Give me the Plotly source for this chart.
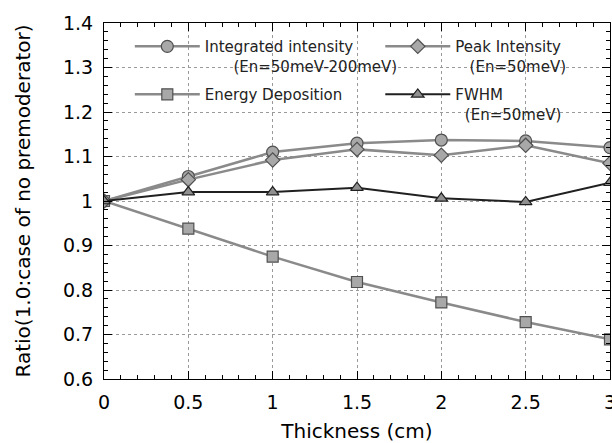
import plotly.graph_objects as go

thickness = [0, 0.5, 1, 1.5, 2, 2.5, 3]
integrated = [1.0, 1.055, 1.11, 1.13, 1.137, 1.135, 1.12]
peak = [1.0, 1.048, 1.092, 1.116, 1.103, 1.125, 1.085]
energy_dep = [1.0, 0.938, 0.875, 0.818, 0.772, 0.728, 0.689]
fwhm = [1.0, 1.02, 1.02, 1.03, 1.006, 0.998, 1.041]

names = [
    "Integrated intensity<br>&nbsp;&nbsp;&nbsp;&nbsp;&nbsp;&nbsp;(En=50meV-200meV)",
    "Peak Intensity<br>&nbsp;&nbsp;&nbsp;(En=50meV)",
    "Energy Deposition",
    "FWHM<br>&nbsp;&nbsp;(En=50meV)",
]

fig = go.Figure()
mk = dict(color="#a8a8a8", line=dict(color="#505050", width=1.2))
fig.add_trace(go.Scatter(x=thickness, y=integrated, name=names[0], mode="lines+markers",
                         line=dict(color="#8a8a8a", width=2.5),
                         marker=dict(symbol="circle", size=12, **mk), legend="legend", legendgroup="a"))
fig.add_trace(go.Scatter(x=thickness, y=energy_dep, name=names[2], mode="lines+markers",
                         line=dict(color="#8a8a8a", width=2.5),
                         marker=dict(symbol="square", size=11, **mk), legend="legend", legendgroup="b"))
fig.add_trace(go.Scatter(x=thickness, y=peak, name=names[1], mode="lines+markers",
                         line=dict(color="#8a8a8a", width=2.5),
                         marker=dict(symbol="diamond", size=11, **mk), legend="legend2", legendgroup="c"))
fig.add_trace(go.Scatter(x=thickness, y=fwhm, name=names[3], mode="lines+markers",
                         line=dict(color="#202020", width=2),
                         marker=dict(symbol="triangle-up", size=11, color="#909090",
                                     line=dict(color="#202020", width=1.2)),
                         legend="legend2", legendgroup="d"))

font_family = "DejaVu Sans, Arial, sans-serif"
leg_common = dict(orientation="v", bgcolor="rgba(0,0,0,0)", borderwidth=0,
                  font=dict(family=font_family, size=15, color="#222"),
                  itemwidth=65, valign="top", tracegroupgap=6,
                  xanchor="left", yanchor="top", traceorder="grouped")

axis_common = dict(showline=True, linecolor="black", linewidth=1, mirror="ticks",
                   ticks="inside", ticklen=8, tickcolor="black", tickwidth=1,
                   showgrid=True, gridcolor="#9a9a9a", griddash="dot", gridwidth=1,
                   zeroline=False, automargin=False, ticklabeloverflow="allow",
                   tickfont=dict(family=font_family, size=19, color="black"),
                   title_font=dict(family=font_family, size=20, color="black"))

fig.update_layout(
    width=612, height=443,
    margin=dict(l=104, r=2, t=23, b=64),
    paper_bgcolor="white", plot_bgcolor="white",
    legend=dict(x=0.051, y=0.98, **leg_common),
    legend2=dict(x=0.546, y=0.98, **leg_common),
    xaxis=dict(range=[0, 3], dtick=0.5, tick0=0, ticklabelstandoff=6,
               minor=dict(dtick=0.1, ticks="inside", ticklen=4, tickcolor="black", showgrid=False),
               title=dict(text="Thickness (cm)", standoff=14), **axis_common),
    yaxis=dict(range=[0.6, 1.4], dtick=0.1, tick0=0.6, ticklabelstandoff=6,
               minor=dict(dtick=0.02, ticks="inside", ticklen=4, tickcolor="black", showgrid=False),
               title=dict(text="Ratio(1.0:case of no premoderator)", standoff=26), **axis_common),
)

# remove the page's default body margin so the 612x443 figure fills the window exactly
fig.write_html("out.html", config={"displayModeBar": False},
               post_script="document.body.style.margin='0';document.body.style.overflow='hidden';")
